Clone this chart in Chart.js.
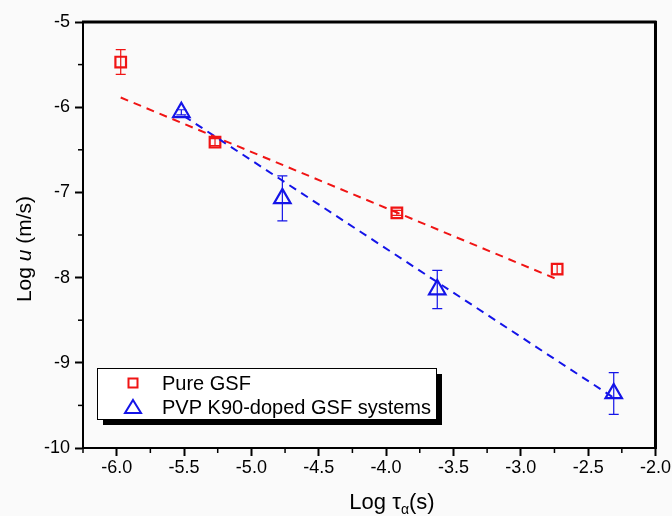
<!DOCTYPE html>
<html>
<head>
<meta charset="utf-8">
<script src="https://cdn.jsdelivr.net/npm/chart.js@4.4.1/dist/chart.umd.min.js"></script>
<style>
  html, body { margin: 0; padding: 0; background: #fafafa; }
  #wrap { width: 672px; height: 516px; }
</style>
</head>
<body>
<div id="wrap"><canvas id="chart" width="672" height="516"></canvas></div>
<script>
// Pure GSF
const pureX = [-5.97, -5.27, -3.92, -2.73];
const pureY = [-5.47, -6.41, -7.24, -7.90];
const pureErr = [0.145, 0.04, 0.03, 0.06];

// PVP K90-doped GSF systems
const pvpX = [-5.52, -4.77, -3.62, -2.31];
const pvpY = [-6.06, -7.07, -8.14, -9.36];
const pvpErr = [0.03, 0.265, 0.225, 0.245];

// fitted lines, end points
const pureFitX = [-5.97, -2.73];
const pureFitY = [-5.886, -8.02];
const pvpFitX = [-5.5, -2.32];
const pvpFitY = [-6.105, -9.40];

const xTicks = [-6.0, -5.5, -5.0, -4.5, -4.0, -3.5, -3.0, -2.5, -2.0];
const xMinor = [-6.25, -5.75, -5.25, -4.75, -4.25, -3.75, -3.25, -2.75, -2.25];
const yTicks = [-10, -9, -8, -7, -6, -5];
const yMinor = [-9.5, -8.5, -7.5, -6.5, -5.5];

const RED = '#f01414';
const BLUE = '#1414e8';
const FONT = 'Liberation Sans, Arial, sans-serif';

const toPts = (xs, ys) => xs.map((v, i) => ({ x: v, y: ys[i] }));

// error bars for the marker series
const errorBars = {
  id: 'errorBars',
  afterDatasetsDraw(chart) {
    const { ctx, scales: { x, y } } = chart;
    chart.data.datasets.forEach(ds => {
      if (!ds.errors) return;
      ctx.save();
      ctx.setLineDash([]);
      ctx.strokeStyle = ds.borderColor;
      ctx.lineWidth = 1.2;
      ds.data.forEach((p, j) => {
        const e = ds.errors[j];
        const px = x.getPixelForValue(p.x);
        const top = y.getPixelForValue(p.y + e);
        const bot = y.getPixelForValue(p.y - e);
        ctx.beginPath();
        ctx.moveTo(px, top); ctx.lineTo(px, bot);
        ctx.moveTo(px - 5, top); ctx.lineTo(px + 5, top);
        ctx.moveTo(px - 5, bot); ctx.lineTo(px + 5, bot);
        ctx.stroke();
      });
      ctx.restore();
    });
  }
};

// minor ticks, axis titles, boxed legend, frame
const decor = {
  id: 'decor',
  afterDraw(chart) {
    const { ctx, chartArea, scales: { x, y } } = chart;
    const L = chartArea.left, R = chartArea.right, T = chartArea.top, B = chartArea.bottom;
    ctx.save();
    ctx.setLineDash([]);

    // plot frame (top and right sides)
    ctx.fillStyle = '#000';
    ctx.fillRect(L - 1, T - 1.5, R - L + 2, 3);
    ctx.fillRect(R - 1.5, T - 1, 3, B - T + 2);

    xMinor.forEach(v => {
      const px = x.getPixelForValue(v);
      ctx.fillRect(px - 0.75, B, 1.5, 5);
    });
    yMinor.forEach(v => {
      const py = y.getPixelForValue(v);
      ctx.fillRect(L - 5, py - 0.75, 5, 1.5);
    });

    // x title: Log τα(s)
    ctx.textBaseline = 'alphabetic';
    ctx.textAlign = 'left';
    const big = '22px ' + FONT, small = '14px ' + FONT;
    ctx.font = big;
    const w1 = ctx.measureText('Log \u03c4').width;
    const w3 = ctx.measureText('(s)').width;
    ctx.font = small;
    const w2 = ctx.measureText('\u03b1').width;
    let sx = 392 - (w1 + w2 + w3) / 2;
    const base = 509;
    ctx.font = big; ctx.fillText('Log \u03c4', sx, base); sx += w1;
    ctx.font = small; ctx.fillText('\u03b1', sx, base + 5); sx += w2;
    ctx.font = big; ctx.fillText('(s)', sx, base);

    // boxed legend with drop shadow
    const bx = L + 14, by = B - 80, bw = 339, bh = 51;
    ctx.fillStyle = '#000';
    ctx.fillRect(bx + 6, by + 6, bw, bh);
    ctx.fillStyle = '#fff';
    ctx.fillRect(bx, by, bw, bh);
    ctx.strokeStyle = '#000';
    ctx.lineWidth = 1;
    ctx.strokeRect(bx + 0.5, by + 0.5, bw, bh);
    const items = chart.data.datasets.filter(d => d.errors);
    items.forEach((ds, i) => {
      const cy = by + 15 + i * 24;
      const mx = bx + 36;
      ctx.strokeStyle = ds.borderColor;
      ctx.lineWidth = 2;
      ctx.beginPath();
      if (ds.pointStyle === 'rect') {
        ctx.rect(mx - 4.5, cy - 4.5, 9, 9);
      } else {
        ctx.moveTo(mx, cy - 7); ctx.lineTo(mx + 8, cy + 6); ctx.lineTo(mx - 8, cy + 6); ctx.closePath();
      }
      ctx.stroke();
      ctx.fillStyle = '#000';
      ctx.font = '20px ' + FONT;
      ctx.textBaseline = 'middle';
      ctx.fillText(ds.label, bx + 65, cy + 1);
    });

    // y title: Log u (m/s)
    ctx.fillStyle = '#000';
    ctx.textBaseline = 'alphabetic';
    ctx.translate(31, 249);
    ctx.rotate(-Math.PI / 2);
    const yb = '21px ' + FONT, ital = 'italic 21px ' + FONT;
    ctx.font = yb;
    const a1 = ctx.measureText('Log ').width;
    const a3 = ctx.measureText(' (m/s)').width;
    ctx.font = ital;
    const a2 = ctx.measureText('u').width;
    let ty = -(a1 + a2 + a3) / 2;
    ctx.font = yb; ctx.fillText('Log ', ty, 0); ty += a1;
    ctx.font = ital; ctx.fillText('u', ty, 0); ty += a2;
    ctx.font = yb; ctx.fillText(' (m/s)', ty, 0);
    ctx.restore();
  }
};

new Chart(document.getElementById('chart'), {
  type: 'scatter',
  data: {
    datasets: [
      {
        label: 'Pure GSF fit',
        data: toPts(pureFitX, pureFitY),
        showLine: true,
        borderColor: RED,
        borderWidth: 2,
        borderDash: [8, 6],
        pointRadius: 0
      },
      {
        label: 'PVP fit',
        data: toPts(pvpFitX, pvpFitY),
        showLine: true,
        borderColor: BLUE,
        borderWidth: 2,
        borderDash: [8, 6],
        pointRadius: 0
      },
      {
        label: 'Pure GSF',
        data: toPts(pureX, pureY),
        errors: pureErr,
        pointStyle: 'rect',
        pointRadius: 7.5,
        borderColor: RED,
        backgroundColor: 'rgba(0,0,0,0)',
        borderWidth: 2.2
      },
      {
        label: 'PVP K90-doped GSF systems',
        data: toPts(pvpX, pvpY),
        errors: pvpErr,
        pointStyle: 'triangle',
        pointRadius: 9.5,
        borderColor: BLUE,
        backgroundColor: 'rgba(0,0,0,0)',
        borderWidth: 2.2
      }
    ]
  },
  options: {
    responsive: false,
    animation: false,
    layout: { padding: { top: 22, right: 15, left: 0, bottom: 0 } },
    plugins: {
      legend: { display: false },
      tooltip: { enabled: false }
    },
    scales: {
      x: {
        type: 'linear',
        min: -6.25,
        max: -2.0,
        afterBuildTicks: s => { s.ticks = xTicks.map(v => ({ value: v })); },
        afterFit: s => { s.height = 68; },
        ticks: {
          callback: v => v.toFixed(1),
          color: '#000',
          font: { family: FONT, size: 18 },
          padding: 1,
          autoSkip: false,
          maxRotation: 0
        },
        grid: { drawOnChartArea: false, tickLength: 8, tickColor: '#000', tickWidth: 2 },
        border: { color: '#000', width: 2 }
      },
      y: {
        type: 'linear',
        min: -10,
        max: -5,
        afterBuildTicks: s => { s.ticks = yTicks.map(v => ({ value: v })); },
        afterFit: s => { s.width = 83; },
        ticks: {
          callback: v => String(v),
          color: '#000',
          font: { family: FONT, size: 18 },
          padding: 5
        },
        grid: { drawOnChartArea: false, tickLength: 8, tickColor: '#000', tickWidth: 2 },
        border: { color: '#000', width: 2 }
      }
    }
  },
  plugins: [errorBars, decor]
});
</script>
</body>
</html>
